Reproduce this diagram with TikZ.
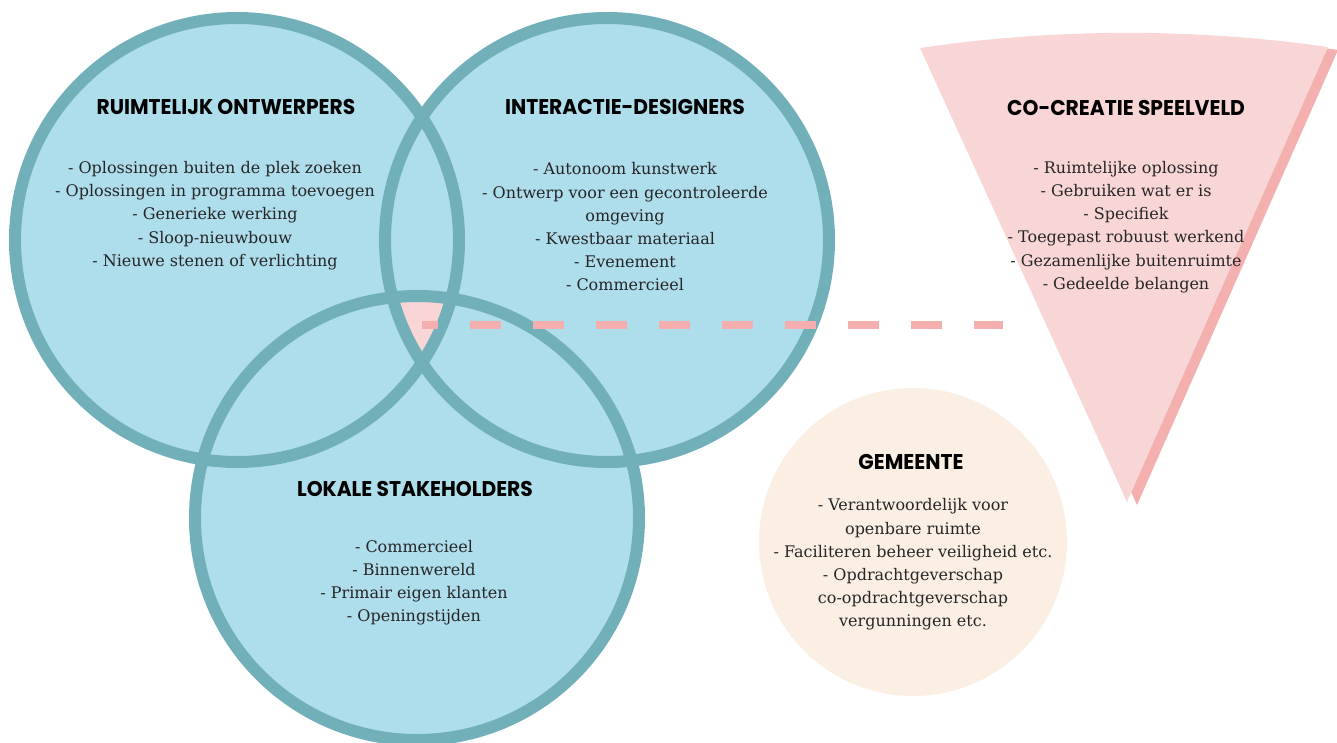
\documentclass[tikz,border=0pt]{standalone}
\usepackage{fontspec}
\setmainfont{DejaVu Serif}
\newfontfamily\headfont{Poppins}[FakeStretch=0.95]
\usetikzlibrary{positioning}

\definecolor{ringblue}{HTML}{AEDDEC}
\definecolor{ringedge}{HTML}{72B0B9}
\definecolor{overlap}{HTML}{F9D5D5}
\definecolor{dashpink}{HTML}{F4AEAE}
\definecolor{fieldpink}{HTML}{F9D6D6}
\definecolor{fieldshade}{HTML}{F4AFAF}
\definecolor{townbeige}{HTML}{FAEFE2}
\definecolor{ink}{HTML}{262626}

\tikzset{
  ring/.style={draw=ringedge, line width=9pt},
  head/.style={font=\headfont\bfseries\fontsize{16}{19}\selectfont, text=black, inner sep=0pt},
  body/.style={font=\fontsize{12}{17.4}\selectfont, align=center, text=ink, inner sep=0pt},
  connector/.style={draw=dashpink, line width=6pt, dash pattern=on 23.25pt off 24pt, dash phase=11.25pt},
}

% the playing field, a flat-topped wedge
\newcommand\fieldshape{(920,48) .. controls (1055,28) and (1195,28) .. (1328,47) -- (1127,502) -- cycle}

\begin{document}
\begin{tikzpicture}[x=0.75pt, y=-0.75pt]
    \useasboundingbox (0,0) rectangle (1337,742);

    \coordinate (ruimte) at (237,240);
    \coordinate (interactie) at (607,240);
    \coordinate (lokaal) at (417,518);

    % ring fills first, outlines on top
    \fill[ringblue] (ruimte) circle (222) (interactie) circle (222) (lokaal) circle (222);
    \begin{scope}
        \clip (ruimte) circle (222);
        \clip (interactie) circle (222);
        \fill[overlap] (lokaal) circle (222);
    \end{scope}
    \draw[ring] (ruimte) circle (222) (interactie) circle (222) (lokaal) circle (222);

    % wedge with its shade
    \fill[fieldshade, shift={(10,3)}] \fieldshape;
    \fill[fieldpink] \fieldshape;

    % gemeente
    \fill[townbeige] (913,542) circle (154);

    % link from the overlap to the field
    \coordinate (overlapdot) at (422,325);
    \coordinate (fieldedge) at (1003,325);
    \draw[connector] (overlapdot) -- (fieldedge);

    % headings
    \node[head] (ruimtehead) at (226,107) {RUIMTELIJK ONTWERPERS};
    \node[head] (interactiehead) at (625,107) {INTERACTIE-DESIGNERS};
    \node[head] (fieldhead) at (1126,108) {CO-CREATIE SPEELVELD};
    \node[head] (lokaalhead) at (415,489) {LOKALE STAKEHOLDERS};
    \node[head] (townhead) at (911,462) {GEMEENTE};

    % lists
    \node[body] (ruimtelist) at (215,215.5) {- Oplossingen buiten de plek zoeken\\- Oplossingen in programma toevoegen\\- Generieke werking\\- Sloop-nieuwbouw\\- Nieuwe stenen of verlichting};
    \node[body] (interactielist) at (625,227) {- Autonoom kunstwerk\\- Ontwerp voor een gecontroleerde\\omgeving\\- Kwestbaar materiaal\\- Evenement\\- Commercieel};
    \node[body] (fieldlist) at (1126,227) {- Ruimtelijke oplossing\\- Gebruiken wat er is\\- Specifiek\\- Toegepast robuust werkend\\- Gezamenlijke buitenruimte\\- Gedeelde belangen};
    \node[body] (lokaallist) at (414,582.5) {- Commercieel\\- Binnenwereld\\- Primair eigen klanten\\- Openingstijden};
    \node[body] (townlist) at (913,564.5) {- Verantwoordelijk voor\\openbare ruimte\\- Faciliteren beheer veiligheid etc.\\- Opdrachtgeverschap\\co-opdrachtgeverschap\\vergunningen etc.};
\end{tikzpicture}
\end{document}
